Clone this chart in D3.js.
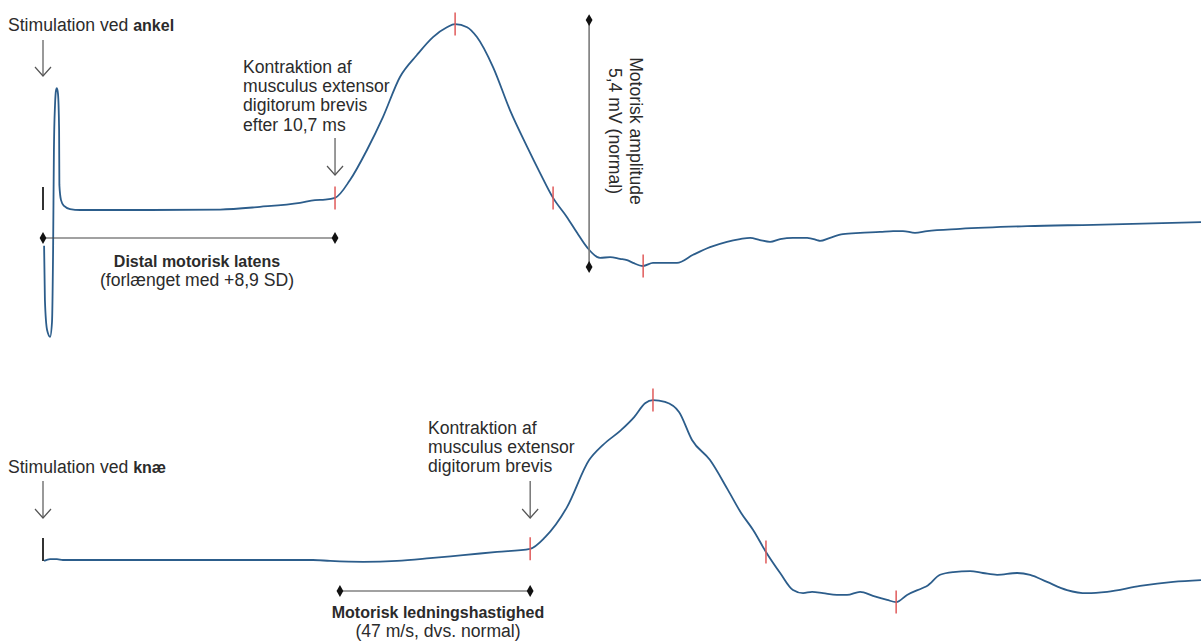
<!DOCTYPE html>
<html>
<head>
<meta charset="utf-8">
<script src="https://cdn.jsdelivr.net/npm/d3@7"></script>
<style>
  body { margin: 0; background: #fff; }
  text { font-family: "Liberation Sans", Arial, Helvetica, sans-serif; fill: #2b2b2b; }
</style>
</head>
<body>
<svg id="chart"></svg>
<script>
// Time (ms after stimulation) and amplitude (mV)
var ankleTrace = [
  [0.04,-0.80],[0.07,-2.01],[0.15,-2.68],[0.26,-2.83],[0.33,-2.50],[0.37,-0.89],[0.40,1.34],[0.44,2.34],
  [0.48,2.68],[0.51,2.72],[0.55,2.59],[0.59,1.79],[0.60,0.56],[0.66,0.22],[0.77,0.09],[0.99,0.02],
  [1.36,0],[3.92,0],[6.49,0.01],[7.95,0.07],[9.42,0.16],[9.97,0.22],[10.33,0.23],[10.70,0.27],
  [11.25,0.67],[11.87,1.34],[12.46,2.08],[13.08,2.97],[13.70,3.46],[14.29,3.86],[14.80,4.08],[15.10,4.15],
  [15.54,4.08],[15.90,3.86],[16.49,3.19],[17.11,2.23],[17.74,1.41],[18.21,0.83],[18.69,0.27],[19.20,-0.16],
  [19.57,-0.51],[19.93,-0.83],[20.41,-1.07],[20.78,-1.05],[21.14,-1.09],[21.40,-1.12],[21.62,-1.18],[21.99,-1.25],
  [22.35,-1.18],[23.23,-1.18],[23.82,-1.00],[24.44,-0.83],[25.06,-0.71],[25.54,-0.65],[25.91,-0.62],[26.27,-0.67],
  [26.64,-0.71],[27.01,-0.65],[27.48,-0.62],[28.00,-0.62],[28.36,-0.67],[28.47,-0.69],[28.84,-0.62],[29.31,-0.54],
  [29.94,-0.51],[30.67,-0.49],[31.15,-0.47],[31.51,-0.47],[31.95,-0.51],[32.39,-0.47],[33.60,-0.42],[36.06,-0.36],
  [38.48,-0.33],[42.43,-0.27]
];

var kneeTrace = [
  [0.04,-0.02],[0.26,0.02],[0.51,0.02],[0.73,0],[9.89,0],[10.52,-0.02],[11.73,-0.04],[12.97,-0.02],
  [14.18,0.04],[15.39,0.11],[16.64,0.18],[17.85,0.25],[18.40,0.51],[19.20,1.18],[20.01,2.23],[20.52,2.57],
  [21.18,2.90],[21.66,3.19],[22.06,3.50],[22.35,3.57],[22.79,3.53],[23.31,3.30],[23.78,2.68],[24.44,2.23],
  [25.10,1.56],[25.58,1.05],[26.02,0.67],[26.49,0.18],[27.01,-0.29],[27.48,-0.67],[27.85,-0.74],[28.18,-0.71],
  [28.58,-0.74],[29.09,-0.78],[29.46,-0.78],[29.94,-0.71],[30.41,-0.80],[30.93,-0.89],[31.26,-0.94],[31.66,-0.78],
  [32.21,-0.63],[32.39,-0.58],[32.87,-0.33],[33.35,-0.27],[33.97,-0.25],[34.44,-0.29],[34.96,-0.33],[35.69,-0.29],
  [36.17,-0.33],[36.79,-0.49],[37.52,-0.67],[38.26,-0.74],[38.99,-0.71],[40.20,-0.58],[41.41,-0.49],[42.43,-0.45]
];

// Red markers: onset, peak, zero crossing, trough
var ankleMarks = [10.70, 15.10, 18.69, 21.99];
var kneeMarks = [17.85, 22.35, 26.49, 31.26];

// Latencies and measured values
var ankleLatency = 10.7;
var kneeLatency = 17.85;
var conductionStart = 10.88;
var amplitudeAt = 20.01;

var ankleTitle = ["Stimulation ved ", "ankel"];
var kneeTitle = ["Stimulation ved ", "knæ"];
var ankleNote = ["Kontraktion af", "musculus extensor", "digitorum brevis", "efter 10,7 ms"];
var kneeNote = ["Kontraktion af", "musculus extensor", "digitorum brevis"];
var latencyLabel = ["Distal motorisk latens", "(forlænget med +8,9 SD)"];
var amplitudeLabel = ["Motorisk amplitude", "5,4 mV (normal)"];
var velocityLabel = ["Motorisk ledningshastighed", "(47 m/s, dvs. normal)"];

var width = 1201, height = 641;
var pxPerMv = 44.8;
var blue = "#2c5d8b", red = "#e05a5a";
var fs = "17.6px";

var svg = d3.select("#chart")
  .attr("width", width)
  .attr("height", height);

// Scales
var x = d3.scaleLinear().domain([0, 42.43]).range([43, 1201]);
var yTop = d3.scaleLinear().domain([-3, 4.5]).range([210 + 3 * pxPerMv, 210 - 4.5 * pxPerMv]);
var yBot = d3.scaleLinear().domain([-3, 4.5]).range([560 + 3 * pxPerMv, 560 - 4.5 * pxPerMv]);

function linePath(y) {
  return d3.line()
    .x(function(d) { return x(d[0]); })
    .y(function(d) { return y(d[1]); })
    .curve(d3.curveMonotoneX);
}

// interpolate trace value at a time, for marker placement
function valueAt(trace, t) {
  for (var i = 1; i < trace.length; i++) {
    if (trace[i][0] >= t) {
      var a = trace[i - 1], b = trace[i];
      return a[1] + (b[1] - a[1]) * (t - a[0]) / (b[0] - a[0]);
    }
  }
  return trace[trace.length - 1][1];
}

var diamond = d3.symbol().type(d3.symbolDiamond).size(40);

function arrow(xp, y0, y1) {
  var g = svg.append("g").attr("stroke", "#555").attr("stroke-width", 1.2).attr("fill", "none");
  g.append("line").attr("x1", xp).attr("x2", xp).attr("y1", y0).attr("y2", y1);
  g.append("path").attr("d", "M" + (xp - 8) + "," + (y1 - 9) + "L" + xp + "," + y1 + "L" + (xp + 8) + "," + (y1 - 9));
}

function hBar(x0, x1, yp) {
  svg.append("line")
    .attr("x1", x0).attr("x2", x1).attr("y1", yp).attr("y2", yp)
    .attr("stroke", "#444").attr("stroke-width", 1.2);
  [x0, x1].forEach(function(xp) {
    svg.append("path").attr("d", diamond).attr("transform", "translate(" + xp + "," + yp + ")").attr("fill", "#111");
  });
}

function title(lbl, xp, yp) {
  var t = svg.append("text").attr("x", xp).attr("y", yp).style("font-size", fs);
  t.append("tspan").text(lbl[0]);
  t.append("tspan").style("font-weight", "bold").style("font-size", "16px").text(lbl[1]);
}

function note(lines, xp, yp) {
  svg.append("g").selectAll("text")
    .data(lines)
    .enter()
    .append("text")
    .attr("x", xp)
    .attr("y", function(d, i) { return yp + i * 19.2; })
    .style("font-size", fs)
    .text(function(d) { return d; });
}

function centered(lines, xp, yp) {
  svg.append("text").attr("x", xp).attr("y", yp).attr("text-anchor", "middle")
    .style("font-size", "16px").style("font-weight", "bold").text(lines[0]);
  svg.append("text").attr("x", xp).attr("y", yp + 19).attr("text-anchor", "middle")
    .style("font-size", fs).text(lines[1]);
}

// ---- Top recording (ankle) ----
svg.append("line")
  .attr("x1", x(0)).attr("x2", x(0))
  .attr("y1", yTop(0) - 23).attr("y2", yTop(0))
  .attr("stroke", "#333").attr("stroke-width", 2);

svg.append("path")
  .datum(ankleTrace)
  .attr("d", linePath(yTop))
  .attr("fill", "none")
  .attr("stroke", blue)
  .attr("stroke-width", 1.8);

svg.append("g").selectAll("line")
  .data(ankleMarks)
  .enter()
  .append("line")
  .attr("x1", function(d) { return x(d); })
  .attr("x2", function(d) { return x(d); })
  .attr("y1", function(d) { return yTop(valueAt(ankleTrace, d)) - 11.5; })
  .attr("y2", function(d) { return yTop(valueAt(ankleTrace, d)) + 11.5; })
  .attr("stroke", red)
  .attr("stroke-width", 1.5);

title(ankleTitle, 8, 31);
arrow(x(0), 40, 76);
note(ankleNote, 243, 73);
arrow(x(ankleLatency), 138, 175);

hBar(x(0), x(ankleLatency), 238);
centered(latencyLabel, 197, 267);

// amplitude bar, peak to trough
var peakV = d3.max(ankleTrace, function(d) { return d[1]; });
var troughV = d3.min(ankleTrace.filter(function(d) { return d[0] > 5; }), function(d) { return d[1]; });
svg.append("line")
  .attr("x1", x(amplitudeAt)).attr("x2", x(amplitudeAt))
  .attr("y1", yTop(peakV) - 4).attr("y2", yTop(troughV) + 1)
  .attr("stroke", "#7a7a7a").attr("stroke-width", 1.6);
[yTop(peakV) - 4, yTop(troughV) + 1].forEach(function(yp) {
  svg.append("path").attr("d", diamond).attr("transform", "translate(" + x(amplitudeAt) + "," + yp + ")").attr("fill", "#111");
});

svg.append("g")
  .selectAll("text")
  .data(amplitudeLabel)
  .enter()
  .append("text")
  .attr("transform", function(d, i) { return "translate(" + (630 - i * 21.5) + ",131) rotate(90)"; })
  .attr("text-anchor", "middle")
  .style("font-size", fs)
  .text(function(d) { return d; });

// ---- Bottom recording (knee) ----
svg.append("line")
  .attr("x1", x(0)).attr("x2", x(0))
  .attr("y1", yBot(0) - 22).attr("y2", yBot(0) + 1)
  .attr("stroke", "#333").attr("stroke-width", 2);

svg.append("path")
  .datum(kneeTrace)
  .attr("d", linePath(yBot))
  .attr("fill", "none")
  .attr("stroke", blue)
  .attr("stroke-width", 1.8);

svg.append("g").selectAll("line")
  .data(kneeMarks)
  .enter()
  .append("line")
  .attr("x1", function(d) { return x(d); })
  .attr("x2", function(d) { return x(d); })
  .attr("y1", function(d) { return yBot(valueAt(kneeTrace, d)) - 11.5; })
  .attr("y2", function(d) { return yBot(valueAt(kneeTrace, d)) + 11.5; })
  .attr("stroke", red)
  .attr("stroke-width", 1.5);

title(kneeTitle, 8, 473);
arrow(x(0), 481, 518);
note(kneeNote, 428, 434);
arrow(x(kneeLatency), 481, 518);

hBar(x(conductionStart), x(kneeLatency), 591);
centered(velocityLabel, 438, 618);
</script>
</body>
</html>
